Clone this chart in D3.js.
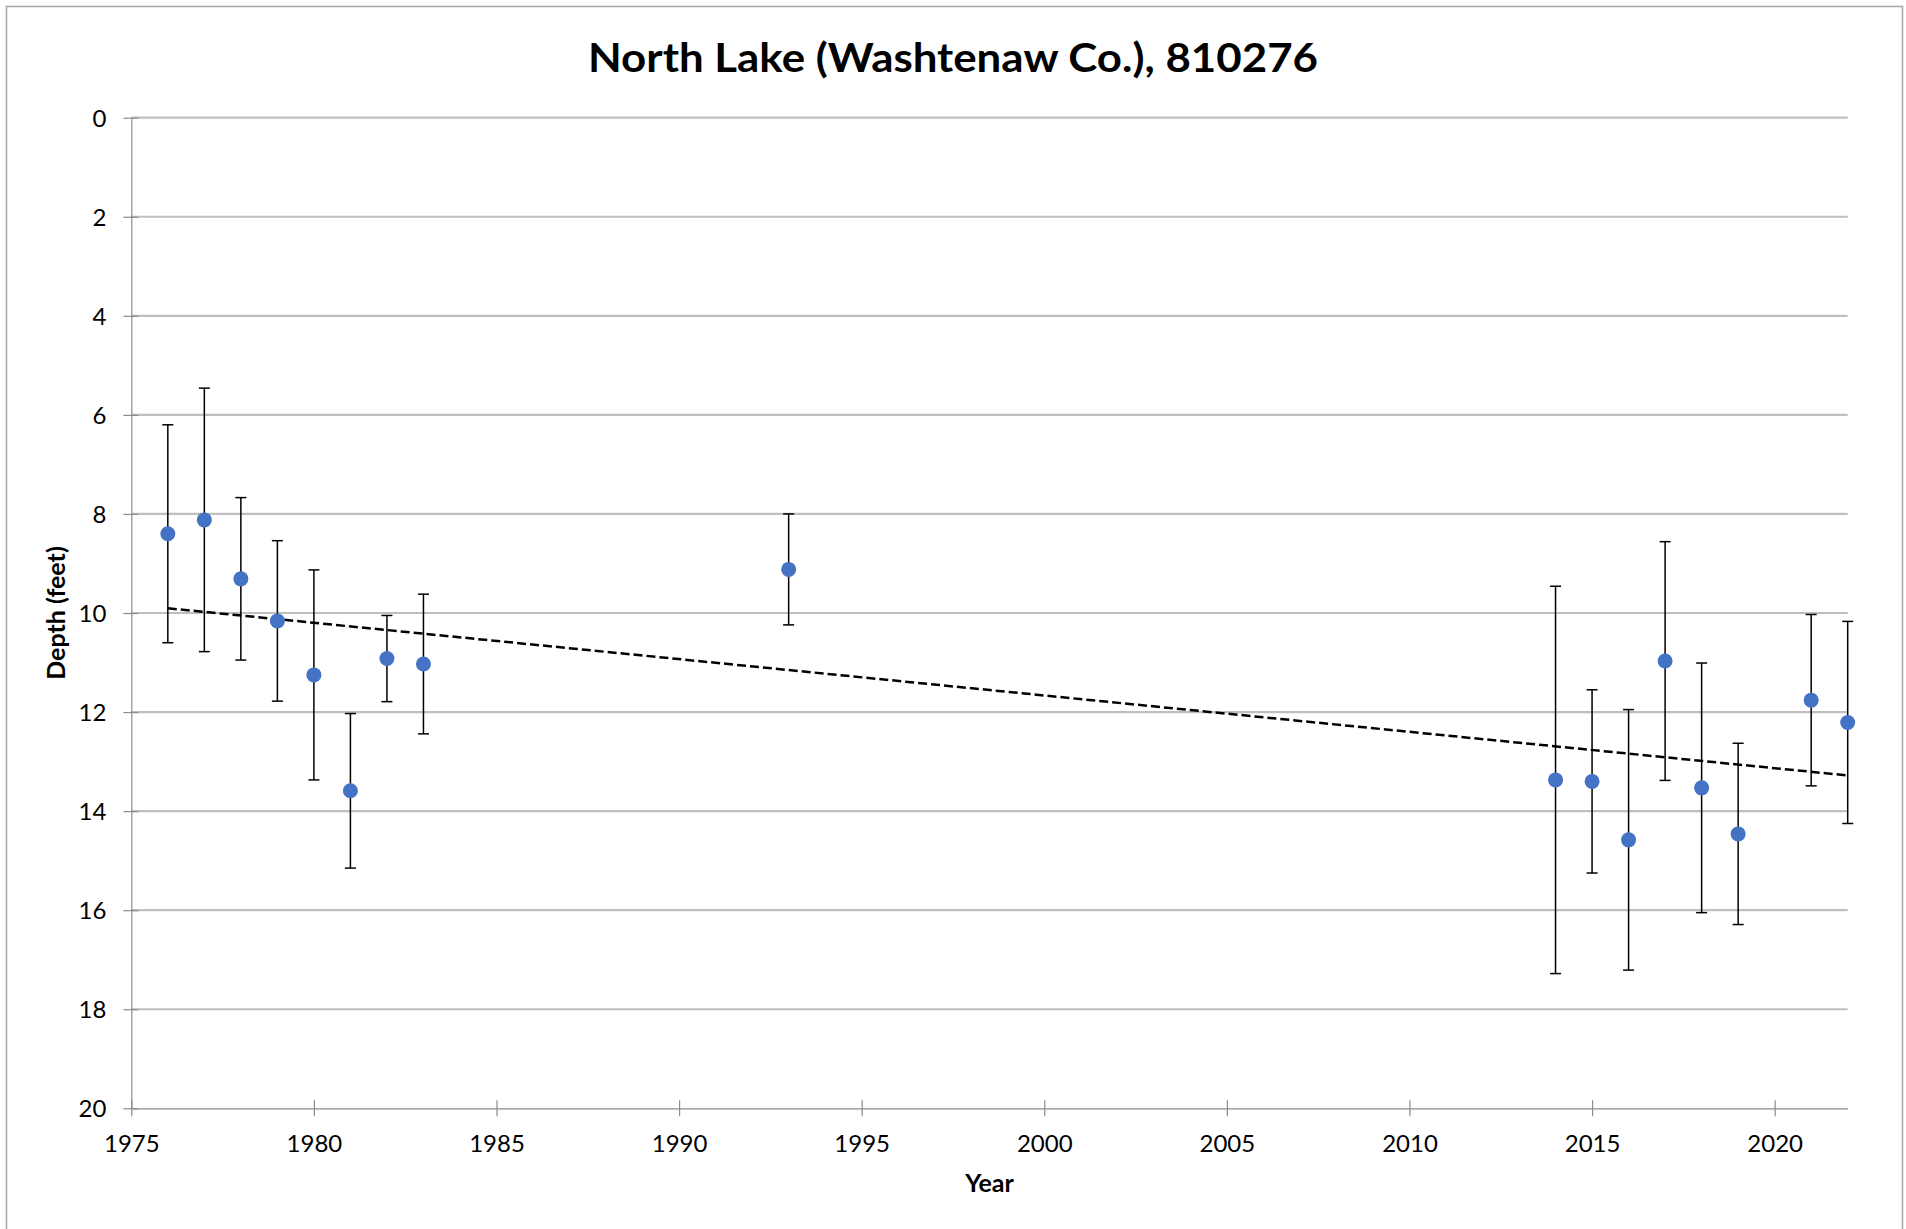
<!DOCTYPE html>
<html>
<head>
<meta charset="utf-8">
<script src="https://cdn.jsdelivr.net/npm/d3@7"></script>
<style>
  html, body { margin: 0; padding: 0; background: #fff; }
  svg { display: block; }
</style>
</head>
<body>
<svg id="chart" width="1906" height="1229"></svg>
<script>
// ---- data ----
const titleText = "North Lake (Washtenaw Co.), 810276";
const xLabel = "Year";
const yLabel = "Depth (feet)";
const years = [1976, 1977, 1978, 1979, 1980, 1981, 1982, 1983, 1993, 2014, 2015, 2016, 2017, 2018, 2019, 2021, 2022];
const depth = [8.40, 8.12, 9.31, 10.16, 11.25, 13.59, 10.92, 11.03, 9.12, 13.37, 13.40, 14.58, 10.97, 13.53, 14.46, 11.76, 12.21];
const errs  = [2.20, 2.66, 1.64, 1.62, 2.12, 1.56, 0.87, 1.41, 1.12, 3.91, 1.85, 2.63, 2.41, 2.52, 1.83, 1.73, 2.04];
const xTicks = [1975, 1980, 1985, 1990, 1995, 2000, 2005, 2010, 2015, 2020];
const yTicks = [0, 2, 4, 6, 8, 10, 12, 14, 16, 18, 20];
const xDomain = [1975, 2022];
const yDomain = [0, 20];

// ---- layout ----
const W = 1906, H = 1229;
const L = 131.3, R = 1847.7, T = 117.7, B = 1108.3;
const FONT = "Lato, 'Open Sans', 'Liberation Sans', sans-serif";

const svg = d3.select("#chart");
svg.append("rect").attr("x", 0).attr("y", 0).attr("width", W).attr("height", H).attr("fill", "#fff");
svg.append("rect").attr("x", 6.5).attr("y", 6.5).attr("width", 1896).attr("height", 1260)
  .attr("fill", "none").attr("stroke", "#a6a6a6").attr("stroke-width", 1.5);

const x = d3.scaleLinear().domain(xDomain).range([L, R]);
const y = d3.scaleLinear().domain(yDomain).range([T, B]);

// gridlines
svg.append("g").selectAll("line").data(yTicks.filter(d => d !== 20)).join("line")
  .attr("x1", L).attr("x2", R)
  .attr("y1", d => y(d)).attr("y2", d => y(d))
  .attr("stroke", "#bfbfbf").attr("stroke-width", 2.2);

// y axis
const yAxis = svg.append("g").attr("transform", `translate(${L},0)`)
  .call(d3.axisLeft(y).tickValues(yTicks).tickSize(0).tickPadding(25).tickFormat(d3.format("d")));
yAxis.select(".domain").attr("stroke", "#8c8c8c").attr("stroke-width", 1.2);
yAxis.selectAll(".tick").append("line").attr("x1", -8).attr("x2", 7).attr("stroke", "#8c8c8c").attr("stroke-width", 1.2);
yAxis.selectAll("text").attr("font-family", FONT).attr("font-size", 24).attr("fill", "#000").attr("dy", "0.35em");

// x axis
const xAxis = svg.append("g").attr("transform", `translate(0,${B})`)
  .call(d3.axisBottom(x).tickValues(xTicks).tickSize(0).tickFormat(d3.format("d")));
xAxis.select(".domain").attr("stroke", "#8c8c8c").attr("stroke-width", 1.2);
xAxis.selectAll(".tick").append("line").attr("y1", -8).attr("y2", 8).attr("stroke", "#8c8c8c").attr("stroke-width", 1.2);
xAxis.selectAll("text").attr("font-family", FONT).attr("font-size", 24).attr("fill", "#000")
  .attr("y", 35).attr("dy", "0.35em");

// trendline (least squares)
const n = years.length;
const mx = d3.mean(years), my = d3.mean(depth);
let sxy = 0, sxx = 0;
for (let i = 0; i < n; i++) { sxy += (years[i] - mx) * (depth[i] - my); sxx += (years[i] - mx) ** 2; }
const slope = sxy / sxx, icpt = my - slope * mx;
const x0 = d3.min(years), x1 = d3.max(years);
svg.append("line")
  .attr("x1", x(x0)).attr("y1", y(icpt + slope * x0))
  .attr("x2", x(x1)).attr("y2", y(icpt + slope * x1))
  .attr("stroke", "#000").attr("stroke-width", 2.5).attr("stroke-dasharray", "9,4");

// error bars
const eb = svg.append("g").attr("stroke", "#000").attr("stroke-width", 1.5);
years.forEach((yr, i) => {
  const cx = x(yr), lo = y(depth[i] - errs[i]), hi = y(depth[i] + errs[i]);
  eb.append("line").attr("x1", cx).attr("x2", cx).attr("y1", lo).attr("y2", hi);
  eb.append("line").attr("x1", cx - 5.5).attr("x2", cx + 5.5).attr("y1", lo).attr("y2", lo);
  eb.append("line").attr("x1", cx - 5.5).attr("x2", cx + 5.5).attr("y1", hi).attr("y2", hi);
});

// points
svg.append("g").selectAll("circle").data(years).join("circle")
  .attr("cx", d => x(d)).attr("cy", (d, i) => y(depth[i])).attr("r", 7.5)
  .attr("fill", "#4472C4");

// title
svg.append("text").attr("x", 953).attr("y", 71.7).attr("text-anchor", "middle")
  .attr("font-family", FONT).attr("font-weight", "bold").attr("font-size", 40)
  .attr("textLength", 730).attr("lengthAdjust", "spacingAndGlyphs")
  .attr("fill", "#000").text(titleText);

// axis titles
svg.append("text").attr("x", (L + R) / 2).attr("y", 1191.7).attr("text-anchor", "middle")
  .attr("font-family", FONT).attr("font-weight", "bold").attr("font-size", 25).attr("fill", "#000").text(xLabel);
svg.append("text").attr("transform", `translate(65,${(T + B) / 2}) rotate(-90)`).attr("text-anchor", "middle")
  .attr("font-family", FONT).attr("font-weight", "bold").attr("font-size", 25).attr("fill", "#000").text(yLabel);
</script>
</body>
</html>
